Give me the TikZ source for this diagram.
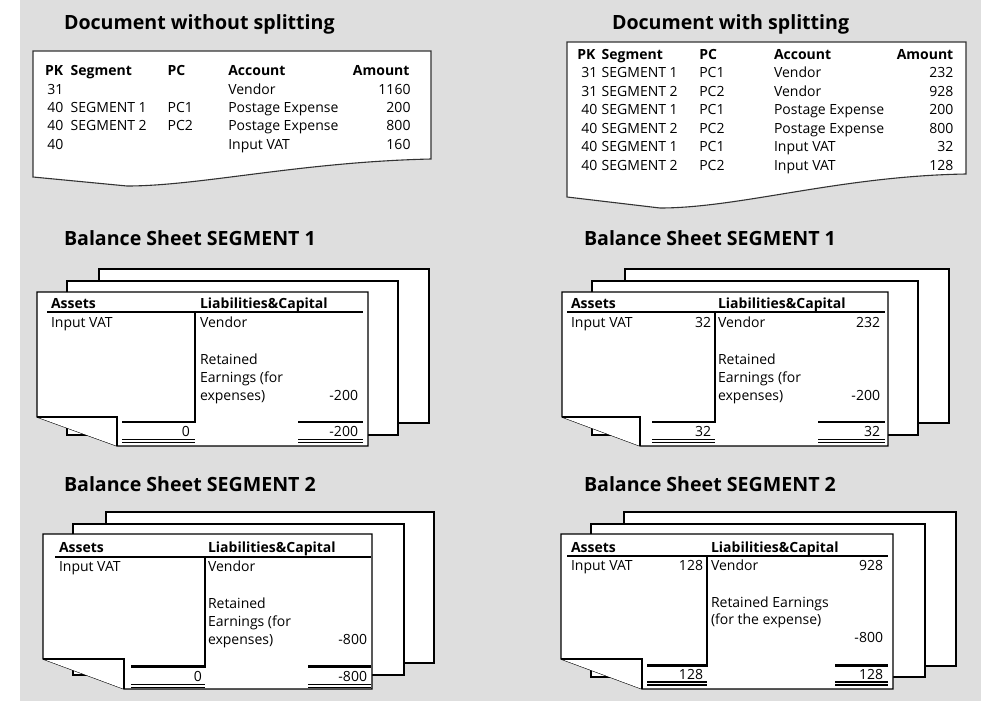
\documentclass[tikz,border=0pt]{standalone}
\usepackage{fontspec}
\setmainfont{Open Sans}
\begin{document}
\begin{tikzpicture}[x=1pt,y=-1pt,
  every node/.style={inner sep=0pt, outer sep=0pt},
  txt/.style={anchor=base west, font=\fontsize{14}{16}\selectfont},
  num/.style={anchor=base east, font=\fontsize{14}{16}\selectfont},
  hd/.style={anchor=base west, font=\fontsize{14}{16}\selectfont\bfseries},
  hdn/.style={anchor=base east, font=\fontsize{14}{16}\selectfont\bfseries},
  ttl/.style={anchor=base west, font=\fontsize{19.6}{22}\selectfont\bfseries},
  paper/.style={draw=black, fill=white, line width=1.1pt},
  doc/.style={draw=black!80, fill=white, line width=1.1pt},
  bold rule/.style={line width=2.2pt},
  fine rule/.style={line width=1.3pt}]
\useasboundingbox (0,0) rectangle (981,701);
\fill[white] (0,0) rectangle (981,701);
\fill[black!13] (20,0) rectangle (981,701);

% ---------------- Document without splitting ----------------
\node[ttl] (t1) at (64,30) {Document without splitting};
\draw[doc] (33,51) -- (431,51) -- (431,159)
  .. controls (300,162) and (200,186) .. (127,186) -- (33,177) -- cycle;
\node[hd] (d1pk) at (45,75) {PK};
\node[hd] (d1seg) at (70.7,75) {Segment};
\node[hd] (d1pc) at (167.7,75) {PC};
\node[hd] (d1acc) at (228.3,75) {Account};
\node[hdn] (d1amt) at (409.5,75) {Amount};
\node[num] (d1pk1) at (63.3,94) {31};
\node[txt] (d1acc1) at (228.3,94) {Vendor};
\node[num] (d1amt1) at (410.5,94) {1160};
\node[num] (d1pk2) at (63.3,112.3) {40};
\node[txt] (d1seg2) at (70.7,112.3) {SEGMENT 1};
\node[txt] (d1pc2) at (167.7,112.3) {PC1};
\node[txt] (d1acc2) at (228.3,112.3) {Postage Expense};
\node[num] (d1amt2) at (410.5,112.3) {200};
\node[num] (d1pk3) at (63.3,130.7) {40};
\node[txt] (d1seg3) at (70.7,130.7) {SEGMENT 2};
\node[txt] (d1pc3) at (167.7,130.7) {PC2};
\node[txt] (d1acc3) at (228.3,130.7) {Postage Expense};
\node[num] (d1amt3) at (410.5,130.7) {800};
\node[num] (d1pk4) at (63.3,149) {40};
\node[txt] (d1acc4) at (228.3,149) {Input VAT};
\node[num] (d1amt4) at (410.5,149) {160};

% ---------------- Document with splitting ----------------
\node[ttl] (t2) at (612,30) {Document with splitting};
\draw[doc] (567,42) -- (966,42) -- (966,174)
  .. controls (840,176) and (740,208) .. (660,208) -- (567,197) -- cycle;
\node[hd] (d2pk) at (577.3,59.3) {PK};
\node[hd] (d2seg) at (601.7,59.3) {Segment};
\node[hd] (d2pc) at (699.3,59.3) {PC};
\node[hd] (d2acc) at (774,59.3) {Account};
\node[hdn] (d2amt) at (953.3,59.3) {Amount};
\foreach \i/\yy/\pk/\sg/\pc/\ac/\am in {
  1/77.7/31/SEGMENT 1/PC1/Vendor/232,
  2/96/31/SEGMENT 2/PC2/Vendor/928,
  3/114.5/40/SEGMENT 1/PC1/Postage Expense/200,
  4/133/40/SEGMENT 2/PC2/Postage Expense/800,
  5/151.5/40/SEGMENT 1/PC1/Input VAT/32,
  6/170/40/SEGMENT 2/PC2/Input VAT/128}{
  \node[num] (d2pk\i) at (597.3,\yy) {\pk};
  \node[txt] (d2seg\i) at (601.7,\yy) {\sg};
  \node[txt] (d2pc\i) at (699.3,\yy) {\pc};
  \node[txt] (d2acc\i) at (774,\yy) {\ac};
  \node[num] (d2amt\i) at (953.3,\yy) {\am};
}

% ---------------- Balance Sheet SEGMENT 1 (left) ----------------
\node[ttl] (t3) at (64,245) {Balance Sheet SEGMENT 1};
\draw[paper] (99,269) rectangle (429,423);
\draw[paper] (67,281) rectangle (398,435);
\draw[paper] (37,292) -- (368,292) -- (368,446) -- (117,446) -- (37,417) -- cycle;
\draw[paper] (37,417) -- (117,417) -- (117,446);
\draw[bold rule] (47,312) -- (363,312);
\draw[bold rule] (122,422) -- (195,422) -- (195,312);
\draw[bold rule] (298,422) -- (363,422);
\draw[fine rule] (122,439.5) -- (195,439.5) (122,442.5) -- (195,442.5);
\draw[fine rule] (298,439.5) -- (363,439.5) (298,442.5) -- (363,442.5);
\node[hd] (a1as) at (51,308) {Assets};
\node[hd] (a1li) at (200,308) {Liabilities\&Capital};
\node[txt] (a1iv) at (51,327) {Input VAT};
\node[txt] (a1ve) at (200,327) {Vendor};
\node[txt] (a1r1) at (200,364) {Retained};
\node[txt] (a1r2) at (200,382) {Earnings (for};
\node[txt] (a1r3) at (200,400) {expenses)};
\node[num] (a1re) at (358,400) {-200};
\node[num] (a1sl) at (190,436) {0};
\node[num] (a1sr) at (358,436) {-200};

% ---------------- Balance Sheet SEGMENT 1 (right) ----------------
\node[ttl] (t4) at (584,245) {Balance Sheet SEGMENT 1};
\draw[paper] (625,269) rectangle (949,423);
\draw[paper] (592,281) rectangle (918,435);
\draw[paper] (562,292) -- (888,292) -- (888,446) -- (640,446) -- (562,417) -- cycle;
\draw[paper] (562,417) -- (640,417) -- (640,446);
\draw[bold rule] (567,312) -- (885,312);
\draw[bold rule] (652,422) -- (715,422) -- (715,312);
\draw[bold rule] (818,422) -- (885,422);
\draw[fine rule] (652,439.5) -- (715,439.5) (652,442.5) -- (715,442.5);
\draw[fine rule] (818,439.5) -- (885,439.5) (818,442.5) -- (885,442.5);
\node[hd] (b1as) at (571,308) {Assets};
\node[hd] (b1li) at (718,308) {Liabilities\&Capital};
\node[txt] (b1iv) at (571,327) {Input VAT};
\node[num] (b1ivn) at (711,327) {32};
\node[txt] (b1ve) at (718,327) {Vendor};
\node[num] (b1ven) at (880,327) {232};
\node[txt] (b1r1) at (718,364) {Retained};
\node[txt] (b1r2) at (718,382) {Earnings (for};
\node[txt] (b1r3) at (718,400) {expenses)};
\node[num] (b1re) at (880,400) {-200};
\node[num] (b1sl) at (711,436) {32};
\node[num] (b1sr) at (880,436) {32};

% ---------------- Balance Sheet SEGMENT 2 (left) ----------------
\node[ttl] (t5) at (64,491) {Balance Sheet SEGMENT 2};
\draw[paper] (106,512) rectangle (434,663);
\draw[paper] (73,524) rectangle (404,675);
\draw[paper] (43,534) -- (372,534) -- (372,689) -- (124,689) -- (43,659) -- cycle;
\draw[paper] (43,659) -- (124,659) -- (124,689);
\draw[bold rule] (55,557) -- (371,557);
\draw[bold rule] (131,666.5) -- (205,666.5) -- (205,557);
\draw[bold rule] (308,666.5) -- (371,666.5);
\draw[fine rule] (131,684.3) -- (205,684.3) (131,687.2) -- (205,687.2);
\draw[fine rule] (308,684.3) -- (371,684.3) (308,687.2) -- (371,687.2);
\node[hd] (a2as) at (59,552) {Assets};
\node[hd] (a2li) at (208,552) {Liabilities\&Capital};
\node[txt] (a2iv) at (59,571) {Input VAT};
\node[txt] (a2ve) at (208,571) {Vendor};
\node[txt] (a2r1) at (208,608) {Retained};
\node[txt] (a2r2) at (208,626) {Earnings (for};
\node[txt] (a2r3) at (208,644) {expenses)};
\node[num] (a2re) at (367,644) {-800};
\node[num] (a2sl) at (202,681) {0};
\node[num] (a2sr) at (367,681) {-800};

% ---------------- Balance Sheet SEGMENT 2 (right) ----------------
\node[ttl] (t6) at (584,491) {Balance Sheet SEGMENT 2};
\draw[paper] (624,512) rectangle (956,666);
\draw[paper] (591,524) rectangle (925,677);
\draw[paper] (561,534) -- (893,534) -- (893,689) -- (642,689) -- (561,659) -- cycle;
\draw[paper] (561,659) -- (642,659) -- (642,689);
\draw[bold rule] (567,556) -- (888,556);
\draw[bold rule] (647,665.5) -- (707,665.5) -- (707,556);
\draw[bold rule] (835,665.5) -- (888,665.5);
\draw[fine rule] (647,682) -- (707,682) (647,685) -- (707,685);
\draw[fine rule] (835,682) -- (888,682) (835,685) -- (888,685);
\node[hd] (b2as) at (571,552) {Assets};
\node[hd] (b2li) at (711,552) {Liabilities\&Capital};
\node[txt] (b2iv) at (571,570) {Input VAT};
\node[num] (b2ivn) at (703,570) {128};
\node[txt] (b2ve) at (711,570) {Vendor};
\node[num] (b2ven) at (883,570) {928};
\node[txt] (b2r1) at (711,607) {Retained Earnings};
\node[txt] (b2r2) at (711,624) {(for the expense)};
\node[num] (b2re) at (883,642.5) {-800};
\node[num] (b2sl) at (703,679.5) {128};
\node[num] (b2sr) at (883,679.5) {128};
\end{tikzpicture}
\end{document}
